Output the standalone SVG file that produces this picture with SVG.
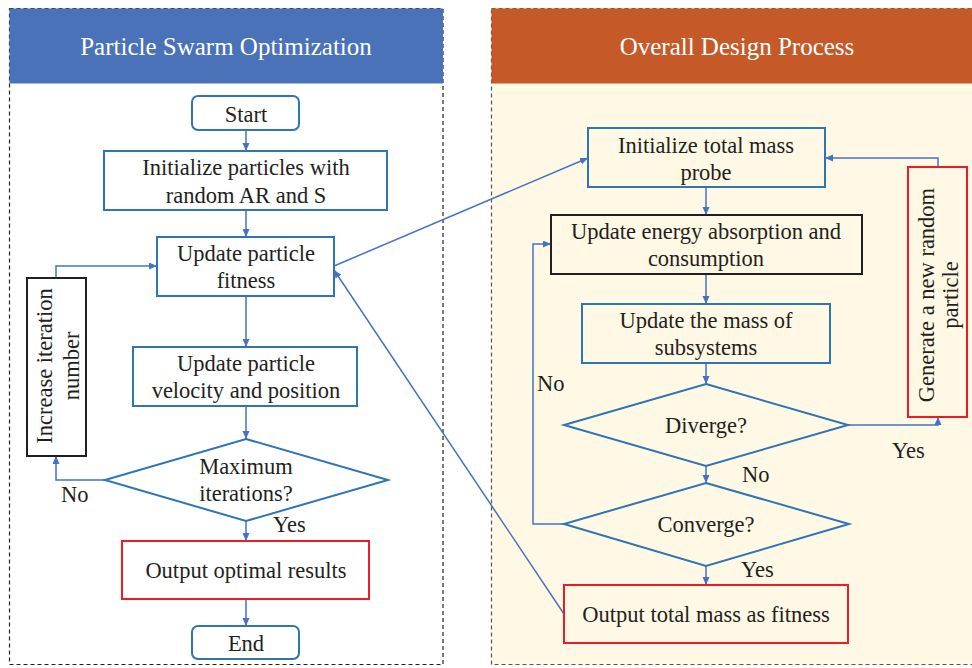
<svg xmlns="http://www.w3.org/2000/svg" width="972" height="668" viewBox="0 0 972 668">
<defs>
<marker id="arr" markerUnits="userSpaceOnUse" markerWidth="9" markerHeight="8" refX="8" refY="3.5" orient="auto">
<path d="M0,0 L8,3.5 L0,7 z" fill="#4472C4"/>
</marker>
<style>
text{font-family:"Liberation Serif","Times New Roman",serif;font-size:22.5px;fill:#231F20;text-anchor:middle}
.title{font-size:25px;fill:#FFFFFF}
.lbl{text-anchor:start}
.b{fill:none;stroke:#2E75B6;stroke-width:2}
.bb{fill:none;stroke:#231F20;stroke-width:2}
.r{fill:none;stroke:#ED1C24;stroke-width:2}
.c{fill:none;stroke:#4472C4;stroke-width:1.5;marker-end:url(#arr)}
.cn{fill:none;stroke:#4472C4;stroke-width:1.5}
</style>
</defs>
<g id="panels">
<rect x="491.5" y="8.5" width="484" height="656" fill="#FFF8E4" stroke="#555" stroke-width="1.2" stroke-dasharray="4,3"/>
<rect x="491.5" y="8.5" width="484" height="75" fill="#C55A28"/>
<rect x="9.5" y="8.5" width="433.5" height="656" fill="#FFFFFF" stroke="#222" stroke-width="1.2" stroke-dasharray="4,3"/>
<rect x="9.5" y="8.5" width="433.5" height="75" fill="#4A72B8"/>
<text class="title" x="226" y="55">Particle Swarm Optimization</text>
<text class="title" x="737" y="55">Overall Design Process</text>
</g>
<g id="connectors">
<path class="c" d="M246,130 V151"/>
<path class="c" d="M246,210 V237"/>
<path class="c" d="M246,296 V347"/>
<path class="c" d="M246,406 V439"/>
<path class="c" d="M246,521 V541"/>
<path class="c" d="M246,599 V626"/>
<path class="c" d="M105,480 H56 V456"/>
<path class="c" d="M56,278 V266 H157"/>
<path class="c" d="M334,266 L588,158"/>
<path class="c" d="M564,614 L334,270"/>
<path class="c" d="M706,187 V215"/>
<path class="c" d="M706,274 V304"/>
<path class="c" d="M706,363 V384"/>
<path class="c" d="M706,466 V483"/>
<path class="c" d="M706,566 V585"/>
<path class="c" d="M564,524 H533 V244 H551"/>
<path class="c" d="M848,425 H938 V417"/>
<path class="c" d="M938,167 V158 H825"/>
<text class="lbl" x="61" y="502">No</text>
<text class="lbl" x="273" y="532">Yes</text>
<text class="lbl" x="537" y="391">No</text>
<text class="lbl" x="892" y="458">Yes</text>
<text class="lbl" x="742" y="482">No</text>
<text class="lbl" x="741" y="577">Yes</text>
</g>
<g id="start">
<rect class="b" x="192" y="96" width="107" height="34" rx="6"/>
<text x="246" y="122">Start</text>
</g>
<g id="init-particles">
<rect class="b" x="104" y="151" width="283" height="59"/>
<text x="246" y="175">Initialize particles with</text>
<text x="246" y="203">random AR and S</text>
</g>
<g id="update-fitness">
<rect class="b" x="157" y="237" width="177" height="59"/>
<text x="246" y="261">Update particle</text>
<text x="246" y="288">fitness</text>
</g>
<g id="increase-iteration">
<rect class="bb" x="27" y="278" width="59" height="178"/>
<text transform="translate(52,366) rotate(-90)">Increase iteration</text>
<text transform="translate(79,366) rotate(-90)">number</text>
</g>
<g id="update-velocity">
<rect class="b" x="133" y="347" width="224" height="59"/>
<text x="246" y="371">Update particle</text>
<text x="246" y="398">velocity and position</text>
</g>
<g id="max-iterations">
<polygon class="b" points="246,439 388,480 246,521 105,480"/>
<text x="246" y="474">Maximum</text>
<text x="246" y="501">iterations?</text>
</g>
<g id="output-optimal">
<rect class="r" x="122" y="541" width="247" height="58"/>
<text x="246" y="578">Output optimal results</text>
</g>
<g id="end">
<rect class="b" x="192" y="626" width="107" height="33" rx="6"/>
<text x="246" y="651">End</text>
</g>
<g id="init-mass">
<rect class="b" x="588" y="128" width="237" height="59"/>
<text x="706" y="153">Initialize total mass</text>
<text x="706" y="180">probe</text>
</g>
<g id="update-energy">
<rect class="bb" x="551" y="215" width="311" height="59"/>
<text x="706" y="239">Update energy absorption and</text>
<text x="706" y="266">consumption</text>
</g>
<g id="update-mass">
<rect class="b" x="582" y="304" width="248" height="59"/>
<text x="706" y="328">Update the mass of</text>
<text x="706" y="355">subsystems</text>
</g>
<g id="diverge">
<polygon class="b" points="706,384 848,425 706,466 564,425"/>
<text x="706" y="433">Diverge?</text>
</g>
<g id="converge">
<polygon class="b" points="706,483 849,524 706,566 564,524"/>
<text x="706" y="532">Converge?</text>
</g>
<g id="output-mass">
<rect class="r" x="564" y="585" width="284" height="58"/>
<text x="706" y="622">Output total mass as fitness</text>
</g>
<g id="generate-particle">
<rect class="r" x="908" y="167" width="59" height="250"/>
<text transform="translate(934,295) rotate(-90)">Generate a new random</text>
<text transform="translate(958,295) rotate(-90)">particle</text>
</g>
</svg>
